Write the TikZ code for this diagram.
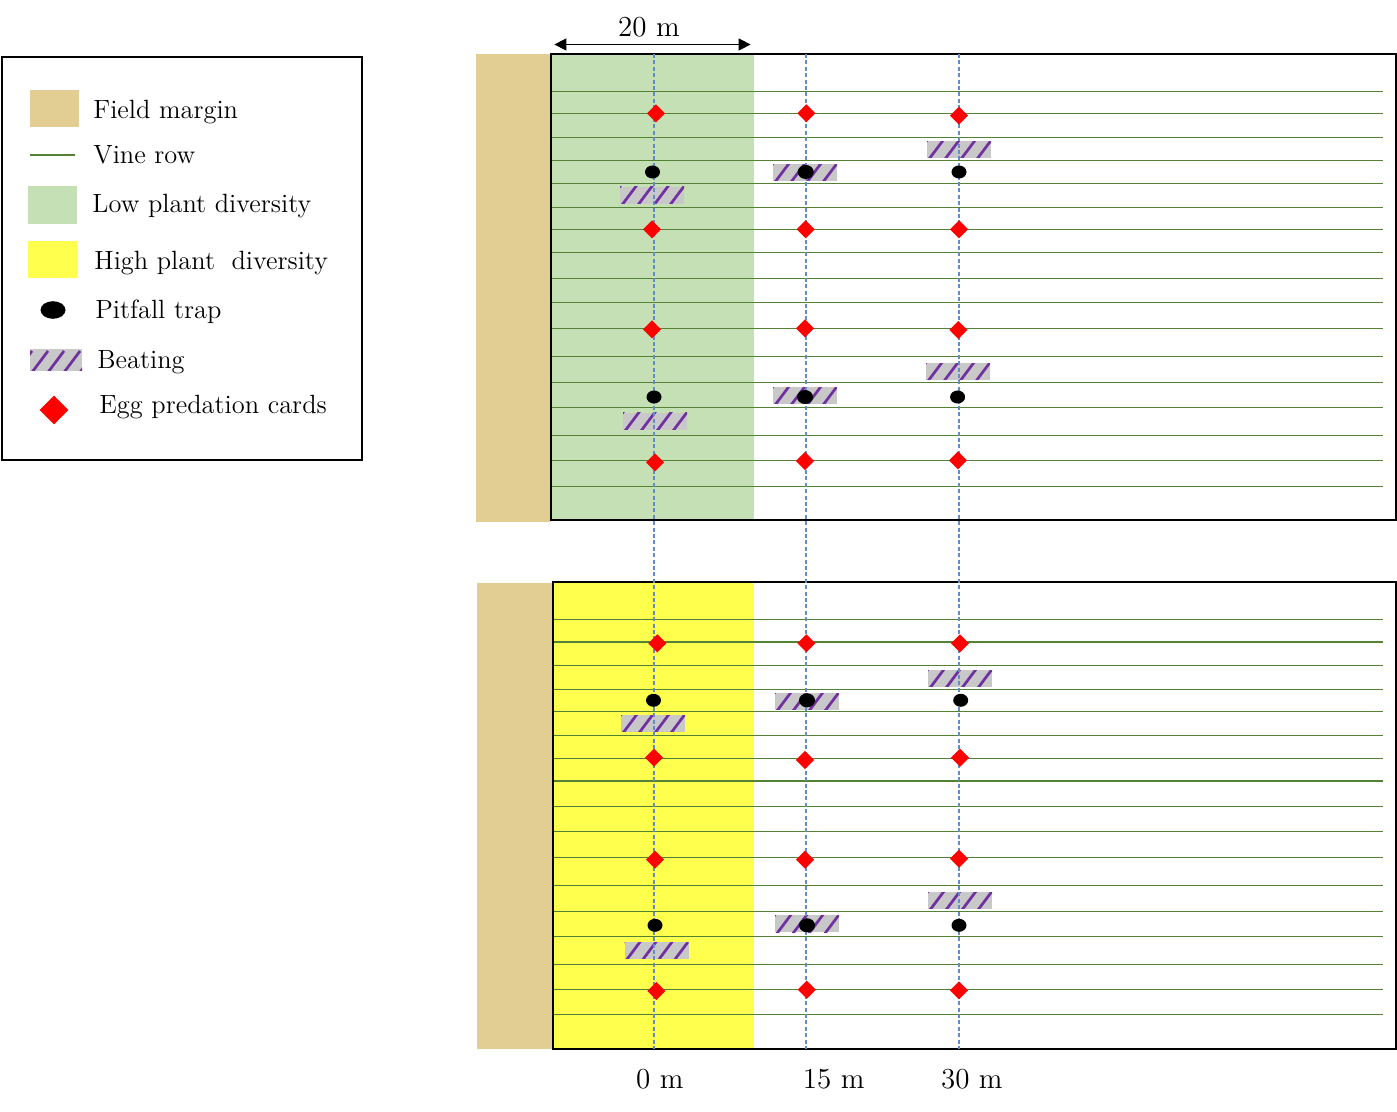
\documentclass[tikz,border=0pt]{standalone}
\usetikzlibrary{shapes.geometric,arrows.meta}
\definecolor{margintan}{RGB}{226,205,146}
\definecolor{lowgreen}{RGB}{197,224,180}
\definecolor{highyellow}{RGB}{255,255,77}
\definecolor{vine}{RGB}{84,130,53}
\definecolor{beatgray}{RGB}{200,200,200}
\definecolor{beatpurple}{RGB}{112,48,160}
\definecolor{guide}{RGB}{95,140,210}
\begin{document}
\begin{tikzpicture}[x=0.5pt,y=-0.5pt,
  egg/.style={diamond, aspect=1, fill=red, inner sep=0pt, minimum size=9.2pt},
  pit/.style={ellipse, fill=black, inner sep=0pt, minimum width=7.5pt, minimum height=6.5pt},
  beat/.style={rectangle, fill=beatgray, inner sep=0pt, minimum width=32pt, minimum height=8.3pt,
    path picture={\foreach \k in {-2,...,6}{\draw[beatpurple, line width=1.35pt]
      ([xshift=\k*8pt, yshift=-2pt]path picture bounding box.south west) -- ++(9pt,12pt);}}},
  vinerow/.style={vine, line width=0.65pt},
  guideline/.style={guide, line width=0.55pt, dash pattern=on 2pt off 1.2pt},
  frame/.style={draw=black, line width=1pt},
  lbl/.style={anchor=base west, inner sep=0pt, font=\fontsize{13.2}{16}\selectfont},
  axislbl/.style={anchor=base, inner sep=0pt, font=\fontsize{14.5}{17}\selectfont},
  dimarrow/.style={{Triangle[length=6pt,width=6pt]}-{Triangle[length=6pt,width=6pt]}, line width=0.75pt}
]
\useasboundingbox (0,0) rectangle (1397,1112);

% ---------- legend ----------
\draw[frame] (2,57) rectangle (362,460);
\fill[margintan] (30,90) rectangle (79,127);
\draw[vinerow, line width=0.8pt] (30,155) -- (75,155);
\fill[lowgreen] (28,186) rectangle (77,224);
\fill[highyellow] (28,241) rectangle (77,278);
\node[pit, minimum width=12.5pt, minimum height=8.8pt] (lgpit) at (53,310) {};
\node[beat, minimum width=26pt, minimum height=11pt] (lgbeat) at (56,360) {};
\node[egg, minimum size=14.5pt] (lgegg) at (54,410) {};
\node[lbl] (t1) at (93,118.3) {Field margin};
\node[lbl] (t2) at (93,163.3) {Vine row};
\node[lbl] (t3) at (92,212.3) {Low plant diversity};
\node[lbl] (t4) at (94,270) {High plant\hspace{0.3em} diversity};
\node[lbl] (t5) at (95,318.3) {Pitfall trap};
\node[lbl] (t6) at (97,368.3) {Beating};
\node[lbl] (t7) at (99,414) {Egg predation cards};

% ---------- top field ----------
\fill[margintan] (476,54) rectangle (551,521.5);
\fill[lowgreen] (551,54) rectangle (754,520);
\foreach \yy in {91.5,113.3,137.3,160.7,183.3,207.3,229.3,252.3,278.3,302.3,328.3,356.3,382.3,407.3,435.3,460.3,486.3}
  \draw[vinerow] (551,\yy) -- (1383,\yy);
\draw[frame] (551,54) rectangle (1396,520);

% ---------- bottom field ----------
\fill[margintan] (477,583) rectangle (552.6,1049);
\fill[highyellow] (552.6,582) rectangle (754,1049);
\foreach \yy in {619.3,642,665.3,689.3,711.3,735.3,758.3,781,806.3,831.7,857.3,885.7,911.3,936.3,964.3,989.3,1014.3}
  \draw[vinerow] (552.6,\yy) -- (1383,\yy);
\draw[frame] (552.6,582) rectangle (1396,1049);

% ---------- beating ----------
\node[beat] (tb1) at (959,149.5) {};
\node[beat] (tb2) at (805,172.5) {};
\node[beat] (tb3) at (652,195.3) {};
\node[beat] (tb4) at (958,371.5) {};
\node[beat] (tb5) at (805,395.5) {};
\node[beat] (tb6) at (655,421.3) {};
\node[beat] (bb1) at (960,678.3) {};
\node[beat] (bb2) at (807,701.3) {};
\node[beat] (bb3) at (653,723.3) {};
\node[beat] (bb4) at (960,900.3) {};
\node[beat] (bb5) at (807,923.7) {};
\node[beat] (bb6) at (656.5,950.3) {};

% ---------- guide lines ----------
\coordinate (g0t) at (654,54);  \coordinate (g0b) at (654,1049);
\coordinate (g15t) at (806,54); \coordinate (g15b) at (806,1049);
\coordinate (g30t) at (959,54); \coordinate (g30b) at (959,1049);
\draw[guideline] (g0t) -- (g0b);
\draw[guideline] (g15t) -- (g15b);
\draw[guideline] (g30t) -- (g30b);

% ---------- egg cards ----------
\node[egg] (te1) at (656,113.3) {};
\node[egg] (te2) at (806.4,113.3) {};
\node[egg] (te3) at (959,115.7) {};
\node[egg] (te4) at (652,229.3) {};
\node[egg] (te5) at (805.7,229.3) {};
\node[egg] (te6) at (959,229.3) {};
\node[egg] (te7) at (652,329.3) {};
\node[egg] (te8) at (805,328.3) {};
\node[egg] (te9) at (958.3,330) {};
\node[egg] (te10) at (655,462.3) {};
\node[egg] (te11) at (805,461) {};
\node[egg] (te12) at (958,460.3) {};
\node[egg] (be1) at (657.3,643.3) {};
\node[egg] (be2) at (806.4,643.3) {};
\node[egg] (be3) at (960,643.3) {};
\node[egg] (be4) at (654,757.7) {};
\node[egg] (be5) at (805,760) {};
\node[egg] (be6) at (960,757.7) {};
\node[egg] (be7) at (655,859.7) {};
\node[egg] (be8) at (805,859.7) {};
\node[egg] (be9) at (959,858.7) {};
\node[egg] (be10) at (656.4,991) {};
\node[egg] (be11) at (806.8,989.7) {};
\node[egg] (be12) at (959,990.3) {};

% ---------- pitfall traps ----------
\node[pit] (tp1) at (652.5,172) {};
\node[pit, minimum width=8pt, minimum height=7pt] (tp2) at (805.7,172) {};
\node[pit] (tp3) at (959,172) {};
\node[pit] (tp4) at (654,397) {};
\node[pit, minimum width=8pt, minimum height=7pt] (tp5) at (805,397) {};
\node[pit] (tp6) at (957.6,397) {};
\node[pit] (bp1) at (653.5,700.3) {};
\node[pit, minimum width=8pt, minimum height=7pt] (bp2) at (807,700.3) {};
\node[pit] (bp3) at (960.7,700.3) {};
\node[pit] (bp4) at (655,925.3) {};
\node[pit, minimum width=8pt, minimum height=7pt] (bp5) at (807,925.3) {};
\node[pit] (bp6) at (959,925.3) {};

% ---------- dimensions & axis ----------
\coordinate (dl) at (554.4,44.5);
\coordinate (dr) at (750.6,44.5);
\draw[dimarrow] (dl) -- (dr);
\node[axislbl] (d20) at (649,36.7) {20 m};
\node[axislbl] (x0) at (659.8,1088.3) {0 m};
\node[axislbl] (x15) at (833.7,1088.3) {15 m};
\node[axislbl] (x30) at (971.8,1088.3) {30 m};
\end{tikzpicture}
\end{document}
